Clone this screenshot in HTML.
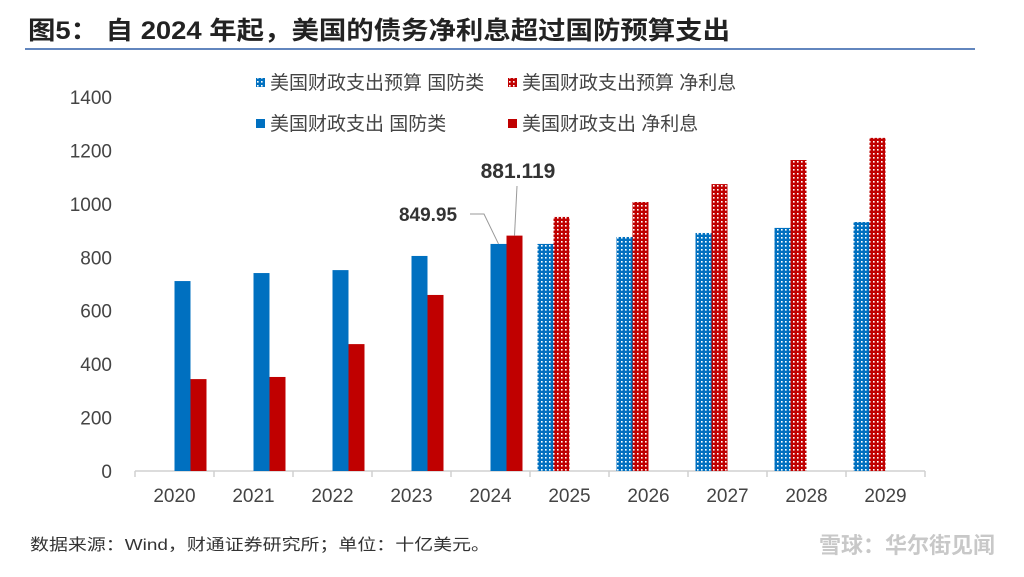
<!DOCTYPE html>
<html><head><meta charset="utf-8"><style>
body{margin:0;background:#fff;}
svg{display:block;font-family:"Liberation Sans","Noto Sans CJK SC",sans-serif;}
</style></head><body>
<svg id="chart" width="1024" height="577" viewBox="0 0 1024 577">
<defs>
<pattern id="pb" width="4" height="4" patternUnits="userSpaceOnUse"><rect width="4" height="4" fill="#0070c0"/><rect x="1" y="1" width="1.6" height="1.6" fill="#fff"/></pattern>
<pattern id="pr" width="4" height="4" patternUnits="userSpaceOnUse"><rect width="4" height="4" fill="#c00000"/><rect x="1" y="1" width="1.6" height="1.6" fill="#fff"/></pattern>
</defs>
<text x="28" y="39" font-size="25" font-weight="bold" fill="#222" textLength="702" lengthAdjust="spacingAndGlyphs">图5： 自 2024 年起，美国的债务净利息超过国防预算支出</text>
<line x1="25" y1="49" x2="975" y2="49" stroke="#2e5ea8" stroke-width="1.5"/>
<text x="30" y="550" font-size="16" fill="#333" textLength="460" lengthAdjust="spacingAndGlyphs">数据来源：Wind，财通证券研究所；单位：十亿美元。</text>
<text x="995" y="553" font-size="22" font-weight="bold" fill="#c8c8c8" text-anchor="end">雪球：华尔街见闻</text>
<g id="legend">
<rect x="256" y="78" width="9" height="9" fill="url(#pb)"/>
<text x="270" y="89" font-size="19" fill="#444">美国财政支出预算 国防类</text>
<rect x="508" y="78" width="9" height="9" fill="url(#pr)"/>
<text x="522" y="89" font-size="19" fill="#444">美国财政支出预算 净利息</text>
<rect x="256" y="119" width="9" height="9" fill="#0070c0"/>
<text x="270" y="130" font-size="19" fill="#444">美国财政支出 国防类</text>
<rect x="508" y="119" width="9" height="9" fill="#c00000"/>
<text x="522" y="130" font-size="19" fill="#444">美国财政支出 净利息</text>
</g>
<g id="axes"></g>
<g id="bars"></g>
</svg>
<script>
const categories=["2020","2021","2022","2023","2024","2025","2026","2027","2028","2029"];
const actualDefense=[711,741,752,805,849.95,null,null,null,null,null];
const actualInterest=[344,352,475,659,881.119,null,null,null,null,null];
const budgetDefense=[null,null,null,null,null,850,876,891,910,932];
const budgetInterest=[null,null,null,null,null,951,1007,1074,1164,1247];
const yTicks=[0,200,400,600,800,1000,1200,1400];
const x0=135,x1=925,y0=471,yTop=97,yMax=1400;
const step=(x1-x0)/categories.length;
const y=v=>y0-(v/yMax)*(y0-yTop);
const xc=i=>x0+step*(i+0.5);
const NS="http://www.w3.org/2000/svg";
function mk(tag,attrs,parent){const e=document.createElementNS(NS,tag);for(const k in attrs)e.setAttribute(k,attrs[k]);parent.appendChild(e);return e;}
const ax=document.getElementById('axes'),bg=document.getElementById('bars');
yTicks.forEach(t=>{const e=mk('text',{x:112,y:y(t)+7,'font-size':19,fill:'#444','text-anchor':'end'},ax);e.textContent=t;

});
const al=mk('line',{x1:x0,y1:y0,x2:x1,y2:y0,stroke:'#d0d0d0','stroke-width':1.5},ax);


for(let i=0;i<=categories.length;i++){const t=mk('line',{x1:x0+step*i,y1:y0,x2:x0+step*i,y2:y0+6,stroke:'#d0d0d0','stroke-width':1.5},ax);

}
categories.forEach((c,i)=>{const e=mk('text',{x:xc(i),y:502,'font-size':19,fill:'#444','text-anchor':'middle'},ax);e.textContent=c;

});
const W=16;
const series=[[budgetDefense,-2,'url(#pb)','bar-budget-defense'],[budgetInterest,-1,'url(#pr)','bar-budget-interest'],[actualDefense,0,'#0070c0','bar-actual-defense'],[actualInterest,1,'#c00000','bar-actual-interest']];
series.forEach(([arr,off,fill,name])=>{arr.forEach((v,i)=>{if(v==null)return;
const r=mk('rect',{x:xc(i)+off*W,y:y(v),width:W,height:y0-y(v),fill:fill},bg);

});});
const i4=4;
const l1=mk('text',{x:428,y:221,'font-size':19,'font-weight':'bold',fill:'#333','text-anchor':'middle'},bg);l1.textContent=actualDefense[i4];


const l2=mk('text',{x:518,y:178,'font-size':21,'font-weight':'bold',fill:'#333','text-anchor':'middle'},bg);l2.textContent=actualInterest[i4];


const c1=mk('polyline',{points:`470,214 484,214 ${xc(i4)+8},${y(actualDefense[i4])}`,fill:'none',stroke:'#999','stroke-width':1},bg);


const c2=mk('line',{x1:517,y1:186,x2:xc(i4)+W*1.5,y2:y(actualInterest[i4]),stroke:'#999','stroke-width':1},bg);


</script>
</body></html>
